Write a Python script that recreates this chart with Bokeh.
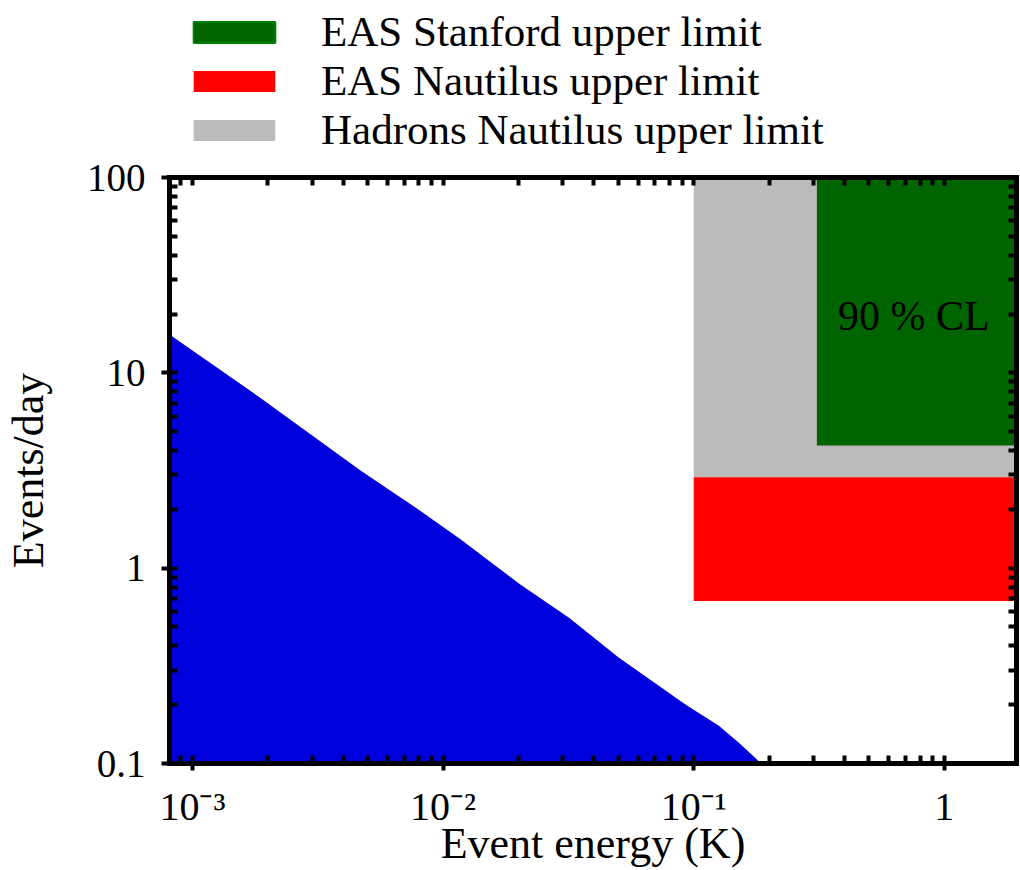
from bokeh.plotting import figure
from bokeh.layouts import column
from bokeh.models import (LogAxis, FixedTicker, Legend, LegendItem, Label, Range1d)
from bokeh.embed import file_html
from bokeh.resources import INLINE

# ---------------- data ----------------
X_MIN, X_MAX = 8.1e-4, 1.94
Y_MIN, Y_MAX = 0.1, 100.0

# blue spectrum: event energy (K) vs events/day
energy = [8.1e-4, 1.88e-3, 4.7e-3, 8.1e-3, 1.17e-2, 2.02e-2, 3.19e-2,
          5.0e-2, 9.3e-2, 0.126, 0.151, 0.186]
rate = [15.7, 7.4, 3.15, 1.97, 1.41, 0.83, 0.555,
        0.35, 0.20, 0.156, 0.128, 0.1]

# upper-limit regions
limit_names = ["EAS Stanford upper limit", "EAS Nautilus upper limit",
               "Hadrons Nautilus upper limit"]
limit_emin = [0.31, 0.1, 0.1]
limit_emax = [2.0, 2.0, 2.0]
limit_rmin = [4.25, 0.68, 2.92]
limit_rmax = [100.0, 2.92, 100.0]
limit_colors = ["#006400", "#FF0000", "#BBBBBB"]
legend_edge = ["#008000", None, None]
draw_order = [2, 0, 1]

x_major = [1e-3, 1e-2, 1e-1, 1]
x_labels = ["10\u207B\u00B3", "10\u207B\u00B2", "10\u207B\u00B9", "1"]
y_major = [0.1, 1, 10, 100]
y_labels = ["0.1", "1", "10", "100"]

cl_text = "90 % CL"
cl_x, cl_y = 0.376, 19.6

FONT = "Liberation Serif"


def minor_log(lo_exp, hi_exp):
    return [m * 10.0 ** e for e in range(lo_exp, hi_exp) for m in range(2, 10)]


# ---------------- legend strip (its swatch quads lie outside its y range) ----
leg = figure(width=1020, height=154, x_range=Range1d(X_MIN, X_MAX),
             y_range=Range1d(1000, 2000), x_axis_type="log",
             output_backend="svg", toolbar_location=None,
             x_axis_location=None, y_axis_location=None,
             min_border_left=168, min_border_right=0,
             min_border_top=0, min_border_bottom=0)
leg.outline_line_color = None
leg.xgrid.visible = False
leg.ygrid.visible = False
leg_items = []
for i in range(3):
    r = leg.quad(left=[limit_emin[i]], right=[limit_emax[i]],
                 bottom=[limit_rmin[i]], top=[limit_rmax[i]],
                 fill_color=limit_colors[i], line_color=legend_edge[i],
                 line_width=2)
    leg_items.append(LegendItem(label=limit_names[i], renderers=[r]))
legend = Legend(items=leg_items, location=(14, 0), orientation="vertical",
                glyph_width=102, glyph_height=26, label_standoff=36,
                label_text_font=FONT, label_text_font_size="43px",
                label_text_color="black",
                spacing=0, padding=0, margin=0,
                border_line_color=None, background_fill_alpha=0)
leg.add_layout(legend)

# ---------------- main plot ----------------
p = figure(width=1020, height=716, x_axis_type="log", y_axis_type="log",
           x_range=Range1d(X_MIN, X_MAX), y_range=Range1d(Y_MIN, Y_MAX),
           output_backend="svg", toolbar_location=None,
           min_border_left=168, min_border_right=0,
           min_border_top=23, min_border_bottom=100)
p.outline_line_color = None
p.xgrid.visible = False
p.ygrid.visible = False
p.background_fill_color = "white"
p.border_fill_color = "white"

p.varea(x=energy, y1=[Y_MIN] * len(energy), y2=rate, fill_color="#0000DC")

for i in draw_order:
    p.quad(left=[limit_emin[i]], right=[limit_emax[i]],
           bottom=[limit_rmin[i]], top=[limit_rmax[i]],
           fill_color=limit_colors[i], line_color=None)

p.add_layout(Label(x=cl_x, y=cl_y, text=cl_text, text_font=FONT,
                   text_font_size="42px", text_color="black",
                   text_baseline="alphabetic", text_align="left"))


def style(ax, labels=True):
    ax.axis_line_width = 5
    ax.axis_line_cap = "square"
    ax.major_tick_line_width = 4
    ax.minor_tick_line_width = 4
    ax.major_tick_in = 8
    ax.major_tick_out = 7
    ax.minor_tick_in = 8
    ax.minor_tick_out = 0
    ax.major_label_text_color = "black"
    ax.axis_label_text_color = "black"
    if not labels:
        ax.major_label_text_font_size = "2px"
        ax.major_label_standoff = 0
        ax.major_tick_out = 0


xa = p.xaxis[0]
xa.ticker = FixedTicker(ticks=x_major, minor_ticks=minor_log(-4, 1))
xa.major_label_overrides = dict(zip(x_major, x_labels))
style(xa)
xa.major_label_text_font = FONT
xa.major_label_text_font_size = "40px"
xa.major_label_standoff = 13
xa.axis_label = "Event energy (K)"
xa.axis_label_text_font = FONT
xa.axis_label_text_font_style = "normal"
xa.axis_label_text_font_size = "44px"
xa.axis_label_standoff = -13

ya = p.yaxis[0]
ya.ticker = FixedTicker(ticks=y_major, minor_ticks=minor_log(-1, 2))
ya.major_label_overrides = dict(zip(y_major, y_labels))
style(ya)
ya.major_tick_out = 8
ya.major_label_text_font = FONT
ya.major_label_text_font_size = "39px"
ya.major_label_standoff = 16
ya.axis_label = "Events/day"
ya.axis_label_text_font = FONT
ya.axis_label_text_font_style = "normal"
ya.axis_label_text_font_size = "44px"
ya.axis_label_standoff = 31

top = LogAxis(ticker=FixedTicker(ticks=x_major, minor_ticks=minor_log(-4, 1)))
top.major_label_overrides = {t: " " for t in x_major}
style(top, labels=False)
p.add_layout(top, "above")
right = LogAxis(ticker=FixedTicker(ticks=y_major, minor_ticks=minor_log(-1, 2)))
right.major_label_overrides = {t: " " for t in y_major}
style(right, labels=False)
p.add_layout(right, "right")

layout = column(leg, p, spacing=0)
open("out.html", "w").write(file_html(layout, INLINE))
